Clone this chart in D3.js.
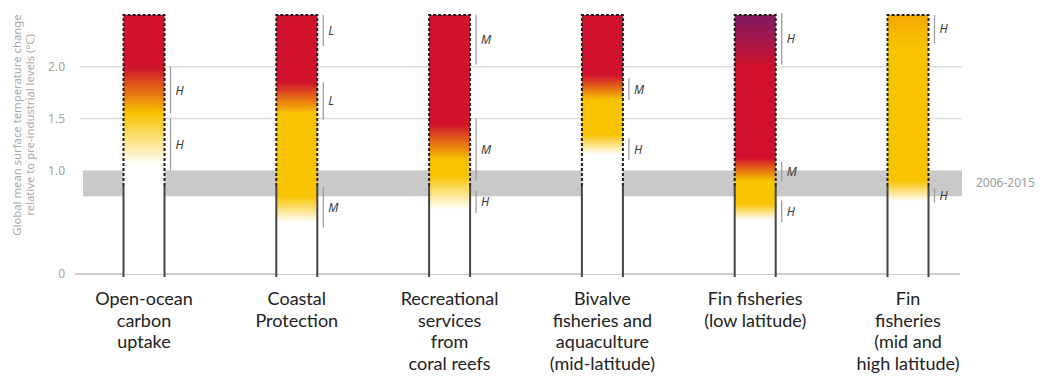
<!DOCTYPE html>
<html>
<head>
<meta charset="utf-8">
<script src="https://cdn.jsdelivr.net/npm/d3@7"></script>
<style>
  body { margin: 0; background: #fff; }
  svg { display: block; font-family: "Noto Sans", "Open Sans", sans-serif; }
</style>
</head>
<body>
<div id="chart"></div>
<script>
// categories (label lines)
var categories = [
  ["Open-ocean", "carbon", "uptake"],
  ["Coastal", "Protection"],
  ["Recreational", "services", "from", "coral reefs"],
  ["Bivalve", "fisheries and", "aquaculture", "(mid-latitude)"],
  ["Fin fisheries", "(low latitude)"],
  ["Fin", "fisheries", "(mid and", "high latitude)"]
];

// risk transitions per category: [temperature °C, risk level]
// 0 = undetectable, 1 = moderate, 2 = high, 3 = very high
var riskStops = [
  [[1.05, 0], [1.55, 1], [2.0, 2]],
  [[0.5, 0], [0.75, 1], [1.55, 1], [1.85, 2]],
  [[0.62, 0], [0.95, 1], [1.1, 1], [1.45, 2]],
  [[1.15, 0], [1.35, 1], [1.68, 1], [1.92, 2]],
  [[0.52, 0], [0.68, 1], [0.9, 1], [1.12, 2], [2.0, 2], [2.45, 3]],
  [[0.7, 0], [0.9, 1], [2.2, 1], [2.5, 1.15]]
];

// confidence brackets: [category index, from, to, label]
var confidence = [
  [0, 1.55, 2.0, "H"], [0, 1.0, 1.5, "H"],
  [1, 2.2, 2.5, "L"], [1, 1.49, 1.85, "L"], [1, 0.45, 0.84, "M"],
  [2, 2.02, 2.5, "M"], [2, 0.9, 1.5, "M"], [2, 0.59, 0.8, "H"],
  [3, 1.68, 1.89, "M"], [3, 1.1, 1.31, "H"],
  [4, 2.02, 2.52, "H"], [4, 0.89, 1.08, "M"], [4, 0.5, 0.71, "H"],
  [5, 2.23, 2.5, "H"], [5, 0.69, 0.83, "H"]
];

var yTicks = [0, 1.0, 1.5, 2.0];
var yTickLabels = ["0", "1.0", "1.5", "2.0"];
var band = [0.75, 1.0];
var bandLabel = "2006-2015";
var observedTop = 0.85; // solid outline up to here, dashed above
var yMax = 2.5;
var yTitle = ["Global mean surface temperature change", "relative to pre-industrial levels (°C)"];

var W = 1044, H = 377;
var svg = d3.select("#chart").append("svg").attr("width", W).attr("height", H);
var defs = svg.append("defs");

var y = d3.scaleLinear().domain([0, yMax]).range([274, 15]);
var x = d3.scalePoint().domain(d3.range(categories.length)).range([144, 908]);
var barW = 41;
var riskColor = d3.scaleLinear().domain([0, 1, 2, 3])
  .range(["#ffffff", "#f8c300", "#d0122c", "#861a5e"]);

// grid lines
svg.append("g").selectAll("line")
  .data(yTicks.filter(function(d) { return d > 1; }))
  .join("line")
  .attr("x1", 80).attr("x2", 962)
  .attr("y1", function(d) { return y(d); }).attr("y2", function(d) { return y(d); })
  .attr("stroke", "#dcdcdc").attr("stroke-width", 1.5);

// observed warming band
svg.append("rect")
  .attr("x", 83).attr("width", 962 - 83)
  .attr("y", y(band[1])).attr("height", y(band[0]) - y(band[1]))
  .attr("fill", "#c9c9c9");
svg.append("text")
  .attr("x", 976).attr("y", (y(band[0]) + y(band[1])) / 2 + 4)
  .attr("font-size", 12).attr("fill", "#9a9a9a")
  .text(bandLabel);

// zero line
svg.append("line")
  .attr("x1", 75).attr("x2", 960)
  .attr("y1", y(0)).attr("y2", y(0))
  .attr("stroke", "#bdbdbd").attr("stroke-width", 1.5);

// y axis tick labels
var yAxis = d3.axisLeft(y).tickValues(yTicks)
  .tickFormat(function(d, i) { return yTickLabels[i]; })
  .tickSize(0).tickPadding(0);
svg.append("g")
  .attr("transform", "translate(65,0)")
  .call(yAxis)
  .call(function(g) { g.select(".domain").remove(); })
  .call(function(g) {
    g.selectAll("text")
      .attr("font-family", "'Noto Sans', sans-serif")
      .attr("font-size", 12).attr("fill", "#a5a5a5");
  });

// y title
var yt = svg.append("text")
  .attr("transform", "translate(21,125) rotate(-90)")
  .attr("text-anchor", "middle")
  .attr("font-size", 11.3).attr("fill", "#aaaaaa");
yt.selectAll("tspan").data(yTitle).join("tspan")
  .attr("x", 0).attr("dy", function(d, i) { return i ? 13 : 0; })
  .text(function(d) { return d; });

// gradients
categories.forEach(function(c, i) {
  var g = defs.append("linearGradient")
    .attr("id", "grad" + i)
    .attr("gradientUnits", "userSpaceOnUse")
    .attr("x1", 0).attr("x2", 0)
    .attr("y1", y(0)).attr("y2", y(yMax));
  g.selectAll("stop").data(riskStops[i]).join("stop")
    .attr("offset", function(d) { return d[0] / yMax; })
    .attr("stop-color", function(d) { return riskColor(d[1]); });
});

var bars = svg.append("g").selectAll("g")
  .data(categories)
  .join("g")
  .attr("transform", function(d, i) { return "translate(" + (x(i) - barW / 2) + ",0)"; });

bars.append("rect")
  .attr("x", 0).attr("width", barW)
  .attr("y", y(yMax)).attr("height", y(0) - y(yMax))
  .attr("fill", function(d, i) { return "url(#grad" + i + ")"; });

// solid outline (observed range)
[0, barW].forEach(function(px) {
  bars.append("line")
    .attr("x1", px).attr("x2", px)
    .attr("y1", y(0) + 3).attr("y2", y(observedTop))
    .attr("stroke", "#444").attr("stroke-width", 2);
});
// dashed outline (projected)
bars.append("path")
  .attr("d", "M0," + y(observedTop) + "V" + y(yMax) + "H" + barW + "V" + y(observedTop))
  .attr("fill", "none")
  .attr("stroke", "#1e1e1e").attr("stroke-width", 2)
  .attr("stroke-dasharray", "3,2");

// confidence brackets
var conf = svg.append("g").selectAll("g")
  .data(confidence)
  .join("g")
  .attr("transform", function(d) { return "translate(" + (x(d[0]) + barW / 2 + 6) + ",0)"; });
conf.append("line")
  .attr("x1", 0).attr("x2", 0)
  .attr("y1", function(d) { return y(d[2]); })
  .attr("y2", function(d) { return y(d[1]); })
  .attr("stroke", "#9a9a9a").attr("stroke-width", 1.2);
conf.append("text")
  .attr("x", 5)
  .attr("y", function(d) { return (y(d[1]) + y(d[2])) / 2 + 4.5; })
  .attr("font-size", 12).attr("font-style", "italic")
  .attr("fill", "#3a3a3a")
  .text(function(d) { return d[3]; });

// category labels, one text per line
var lineH = 21.6;
svg.append("g").selectAll("text")
  .data(categories.flatMap(function(d, i) {
    return d.map(function(t, j) { return { t: t, i: i, j: j }; });
  }))
  .join("text")
  .attr("x", function(d) { return x(d.i); })
  .attr("y", function(d) { return 305 + d.j * lineH; })
  .attr("text-anchor", "middle")
  .attr("font-family", "Lato, 'Noto Sans', sans-serif")
  .attr("font-size", 18).attr("fill", "#222")
  .text(function(d) { return d.t; });
</script>
</body>
</html>
